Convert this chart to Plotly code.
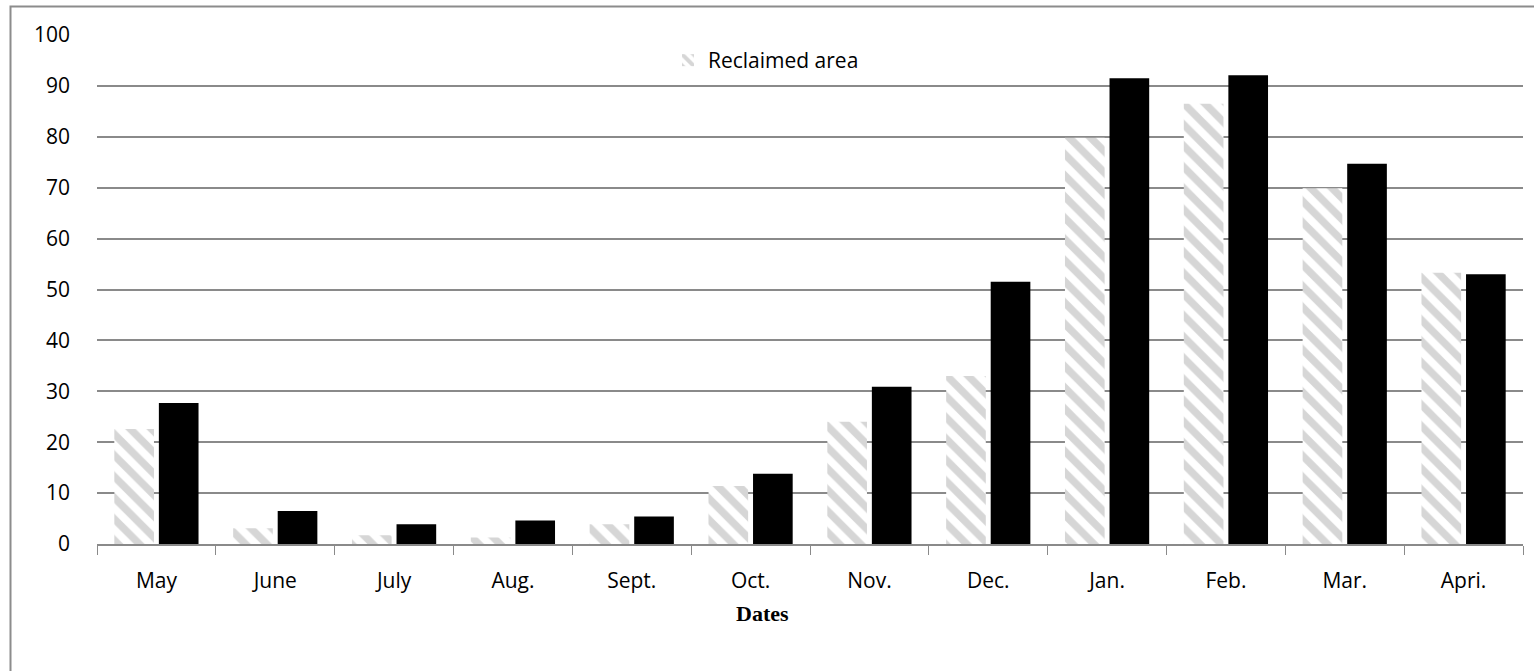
import plotly.graph_objects as go

# Monthly data, May through April
months = ["May", "June", "July", "Aug.", "Sept.", "Oct.", "Nov.", "Dec.",
          "Jan.", "Feb.", "Mar.", "Apri."]
reclaimed_area = [22.6, 3.1, 1.7, 1.3, 3.9, 11.4, 24.0, 33.0, 79.8, 86.5, 69.9, 53.3]
second_series = [27.7, 6.5, 3.9, 4.6, 5.4, 13.8, 30.9, 51.5, 91.5, 92.1, 74.7, 53.0]
y_ticks = list(range(0, 101, 10))

FONT = "Open Sans"
GRID = "#8a8a8a"

# plot-area geometry in pixels (for placing the outer frame and title)
W, H = 1534, 671
ML, MR, MT, MB = 97, 11, 35, 127
PW, PH = W - ML - MR, H - MT - MB


def px_to_paper_x(px):
    return (px - ML) / PW


def px_to_paper_y(py):
    return (H - MB - py) / PH


fig = go.Figure()
fig.add_trace(go.Bar(
    x=months, y=reclaimed_area, name="Reclaimed area",
    marker=dict(color="white", line=dict(width=0),
                pattern=dict(shape="\\", fgcolor="#aeaeae", bgcolor="white",
                             size=15, solidity=0.5)),
    showlegend=True,
))
fig.add_trace(go.Bar(
    x=months, y=second_series, name="",
    marker=dict(color="black", line=dict(width=0)),
    showlegend=False,
))

fig.update_layout(
    width=W, height=H,
    margin=dict(l=ML, r=MR, t=MT, b=MB),
    paper_bgcolor="white", plot_bgcolor="white",
    barmode="group", bargap=0.25, bargroupgap=0.11,
    font=dict(family=FONT, size=21, color="black"),
    legend=dict(x=px_to_paper_x(668), y=px_to_paper_y(40), xanchor="left", yanchor="top",
                bgcolor="rgba(0,0,0,0)", font=dict(family=FONT, size=21),
                itemwidth=30),
    xaxis=dict(
        type="category", showline=True, linecolor=GRID, linewidth=2,
        ticks="outside", tickson="boundaries", ticklen=9, tickcolor=GRID, tickwidth=1,
        showgrid=False, ticklabelstandoff=17,
        tickfont=dict(family=FONT, size=21, color="black"),
    ),
    yaxis=dict(
        range=[0, 100], tickvals=y_ticks, showline=False, zeroline=False,
        showgrid=True, gridcolor=GRID, gridwidth=2,
        ticks="", ticklabelstandoff=26,
        tickfont=dict(family=FONT, size=21, color="black"),
    ),
    annotations=[dict(
        text="<b>Dates</b>", xref="paper", yref="paper",
        x=px_to_paper_x(762), y=px_to_paper_y(613),
        xanchor="center", yanchor="middle", showarrow=False,
        font=dict(family="Liberation Serif", size=22, color="black"),
    )],
    shapes=[dict(
        type="rect", xref="paper", yref="paper", layer="below",
        x0=px_to_paper_x(10.5), x1=px_to_paper_x(W + 20),
        y0=px_to_paper_y(H + 20), y1=px_to_paper_y(6.5),
        line=dict(color="#8c8c8c", width=2), fillcolor="rgba(0,0,0,0)",
    )],
)

fig.write_html("out.html")
